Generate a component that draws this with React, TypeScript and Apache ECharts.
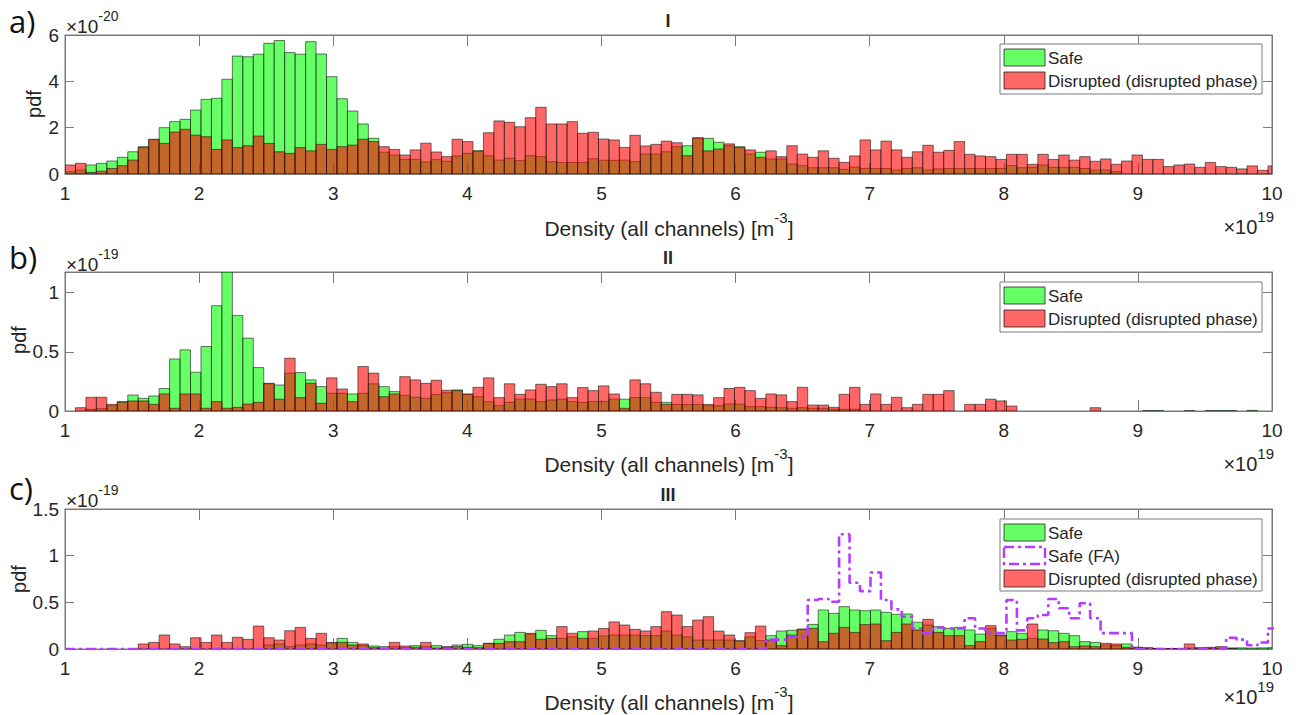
import React, { useEffect, useRef } from "react";
import * as echarts from "echarts";

// ---------- data ----------
const BIN_START = 1.0; // ×10^19 m^-3
const BIN_WIDTH = 0.078;
const X_MIN = 1;
const X_MAX = 10;

// Panel a) (×10^-20)
const safeA = [
  0.1, 0.17, 0.39, 0.46, 0.56, 0.72, 0.96, 1.18, 1.48, 2.0,
  2.26, 2.36, 2.76, 3.22, 3.27, 4.09, 5.09, 5.06, 5.17, 5.64,
  5.76, 5.24, 5.17, 5.71, 5.18, 4.2, 3.25, 2.72, 2.16, 1.54,
  0.94, 0.82, 0.63, 0.63, 0.52, 0.62, 0.55, 0.78, 0.89, 1.01,
  0.79, 0.6, 0.68, 0.58, 0.79, 0.75, 0.53, 0.5, 0.5, 0.5,
  0.66, 0.59, 0.59, 0.6, 0.53, 0.86, 0.86, 0.96, 1.18, 1.22,
  1.54, 1.54, 1.37, 1.22, 1.18, 0.86, 0.94, 0.65, 0.65, 0.43,
  0.36, 0.27, 0.27, 0.27, 0.2, 0.3, 0.24, 0.24, 0.24, 0.17,
  0.24, 0.27, 0.17, 0.22, 0.24, 0.24, 0.24, 0.24, 0.24, 0.24,
  0.36, 0.27, 0.29, 0.39, 0.29, 0.29, 0.29, 0.24, 0.17, 0.17,
  0.1, 0, 0, 0, 0, 0, 0, 0, 0, 0,
  0, 0, 0, 0, 0, 0,
];
const disruptedA = [
  0.39, 0.46, 0.07, 0.12, 0.24, 0.36, 0.6, 1.15, 1.5, 1.32,
  1.81, 1.93, 1.68, 1.61, 1.06, 1.47, 1.14, 1.22, 1.64, 1.32,
  0.96, 0.89, 1.14, 1.0, 1.28, 1.06, 1.18, 1.25, 1.5, 1.4,
  1.18, 1.06, 0.82, 1.04, 1.33, 0.95, 0.75, 1.5, 1.4, 0.98,
  1.78, 2.29, 2.23, 2.04, 2.43, 2.88, 2.16, 2.16, 2.26, 1.76,
  1.8, 1.51, 1.47, 1.15, 1.67, 1.21, 1.28, 1.42, 1.35, 0.79,
  1.57, 1.0, 1.08, 1.3, 1.14, 1.04, 0.72, 1.0, 0.75, 1.22,
  0.86, 0.72, 1.0, 0.68, 0.5, 0.78, 1.47, 1.04, 1.42, 1.04,
  0.72, 0.96, 1.24, 0.94, 1.02, 1.4, 0.85, 0.78, 0.75, 0.63,
  0.85, 0.85, 0.42, 0.85, 0.63, 0.82, 0.6, 0.75, 0.55, 0.65,
  0.42, 0.56, 0.82, 0.63, 0.63, 0.32, 0.39, 0.43, 0.29, 0.5,
  0.32, 0.29, 0.22, 0.35, 0.16, 0.35,
];

// Panel b) (×10^-19)
const safeB = [
  0, 0, 0.014, 0.02, 0.045, 0.08, 0.135, 0.107, 0.127, 0.19,
  0.44, 0.517, 0.328, 0.545, 0.89, 1.175, 0.808, 0.616, 0.367, 0.23,
  0.22, 0.32, 0.325, 0.263, 0.206, 0.15, 0.15, 0.144, 0.15, 0.23,
  0.206, 0.164, 0.133, 0.116, 0.107, 0.14, 0.155, 0.178, 0.141, 0.121,
  0.079, 0.045, 0.073, 0.1, 0.1, 0.079, 0.093, 0.1, 0.079, 0.073,
  0.079, 0.079, 0.1, 0.1, 0.113, 0.113, 0.073, 0.073, 0.056, 0.056,
  0.056, 0.045, 0.045, 0.059, 0.059, 0.037, 0.037, 0.031, 0.028, 0.023,
  0.028, 0.023, 0.023, 0.015, 0.015, 0.015, 0, 0, 0, 0,
  0, 0, 0, 0, 0, 0, 0, 0, 0, 0,
  0, 0, 0, 0, 0, 0, 0, 0, 0, 0,
  0, 0, 0, 0.004, 0.004, 0, 0, 0.003, 0, 0.004,
  0.004, 0.004, 0, 0.005, 0, 0,
];
const disruptedB = [
  0, 0.028, 0.116, 0.116, 0.056, 0.073, 0.085, 0.085, 0.056, 0.144,
  0.023, 0.144, 0.144, 0.023, 0.079, 0.023, 0.031, 0.059, 0.073, 0.234,
  0.1, 0.446, 0.113, 0.234, 0.065, 0.28, 0.186, 0.079, 0.376, 0.32,
  0.121, 0.144, 0.29, 0.263, 0.234, 0.26, 0.175, 0.172, 0.144, 0.2,
  0.28, 0.113, 0.23, 0.141, 0.178, 0.226, 0.206, 0.23, 0.113, 0.198,
  0.172, 0.212, 0.144, 0.023, 0.263, 0.23, 0.158, 0.056, 0.141, 0.141,
  0.136, 0.056, 0.113, 0.19, 0.2, 0.172, 0.107, 0.144, 0.136, 0.079,
  0.2, 0.05, 0.05, 0.031, 0.141, 0.2, 0.056, 0.144, 0.056, 0.116,
  0.028, 0.056, 0.141, 0.141, 0.172, 0, 0.056, 0.056, 0.1, 0.085,
  0.042, 0, 0, 0, 0, 0, 0, 0, 0.028, 0,
  0, 0, 0, 0, 0, 0, 0, 0, 0, 0,
  0, 0, 0, 0, 0, 0,
];

// Panel c) (×10^-19)
const safeC = [
  0, 0, 0, 0, 0, 0, 0, 0, 0, 0,
  0, 0, 0, 0, 0, 0, 0, 0, 0, 0.043,
  0.054, 0.025, 0.043, 0.054, 0.043, 0.064, 0.114, 0.071, 0.036, 0.032,
  0.025, 0.025, 0.014, 0.036, 0.025, 0.036, 0.018, 0.043, 0.05, 0.036,
  0.06, 0.104, 0.15, 0.178, 0.16, 0.2, 0.143, 0.114, 0.13, 0.186,
  0.114, 0.14, 0.15, 0.15, 0.15, 0.143, 0.143, 0.193, 0.15, 0.13,
  0.096, 0.096, 0.096, 0.096, 0.085, 0.13, 0.09, 0.143, 0.193, 0.2,
  0.214, 0.264, 0.418, 0.382, 0.454, 0.418, 0.41, 0.418, 0.393, 0.371,
  0.375, 0.286, 0.257, 0.24, 0.221, 0.232, 0.204, 0.16, 0.221, 0.15,
  0.186, 0.168, 0.114, 0.204, 0.196, 0.168, 0.143, 0.079, 0.071, 0.043,
  0.036, 0.054, 0.018, 0.014, 0.007, 0.005, 0.005, 0.01, 0.014, 0.01,
  0.01, 0.012, 0.012, 0.01, 0.012, 0.015,
];
const safeFAC = [
  0, 0, 0, 0, 0, 0, 0, 0, 0, 0,
  0, 0, 0, 0, 0, 0, 0, 0, 0, 0,
  0, 0, 0, 0, 0, 0, 0, 0, 0, 0,
  0, 0, 0, 0, 0, 0, 0, 0, 0, 0,
  0, 0, 0, 0, 0, 0, 0, 0, 0, 0,
  0, 0, 0, 0, 0, 0, 0, 0, 0, 0,
  0, 0, 0, 0, 0, 0, 0, 0.1, 0.1, 0.13,
  0.13, 0.525, 0.536, 0.507, 1.23, 0.71, 0.62, 0.82, 0.525, 0.425,
  0.346, 0.22, 0.17, 0.23, 0.22, 0.22, 0.33, 0.22, 0.17, 0.17,
  0.525, 0.2, 0.33, 0.364, 0.536, 0.436, 0.33, 0.49, 0.33, 0.17,
  0.17, 0.17, 0, 0, 0, 0, 0, 0, 0, 0,
  0, 0.12, 0.1, 0.04, 0.07, 0.22,
];
const disruptedC = [
  0, 0, 0, 0, 0, 0, 0, 0.054, 0.071, 0.15,
  0.054, 0.025, 0.121, 0.071, 0.15, 0.071, 0.125, 0.104, 0.246, 0.121,
  0.096, 0.196, 0.232, 0.114, 0.168, 0.071, 0.071, 0.043, 0.054, 0.014,
  0.01, 0.071, 0.032, 0.018, 0.071, 0.01, 0.025, 0.025, 0.018, 0.014,
  0.06, 0.06, 0.078, 0.078, 0.168, 0.104, 0.114, 0.24, 0.168, 0.114,
  0.193, 0.22, 0.29, 0.257, 0.21, 0.193, 0.24, 0.4, 0.364, 0.24,
  0.31, 0.346, 0.193, 0.15, 0.089, 0.175, 0.246, 0.096, 0.036, 0.15,
  0.21, 0.22, 0.078, 0.168, 0.232, 0.178, 0.262, 0.268, 0.089, 0.178,
  0.268, 0.204, 0.318, 0.178, 0.143, 0.143, 0.036, 0.079, 0.25, 0.143,
  0.096, 0.104, 0.268, 0.107, 0.068, 0.079, 0.025, 0.032, 0.025, 0.061,
  0.054, 0.018, 0.018, 0.01, 0.005, 0.005, 0.005, 0.054, 0.01, 0.018,
  0.025, 0.005, 0, 0, 0, 0,
];

const X_TICKS = [1, 2, 3, 4, 5, 6, 7, 8, 9, 10];
const Y_A = { max: 6, interval: 2 };
const Y_B = { max: 1.175, interval: 0.5 };
const Y_C = { max: 1.5, interval: 0.5 };

// ---------- style ----------
const GREEN = "rgba(0,255,0,0.6)";
const RED = "rgba(255,0,0,0.6)";
const EDGE = "rgba(25,25,25,0.75)";
const PURPLE = "#b43cff";
const DASHDOT = [10, 4, 3, 4];
const AXIS = "#7a7a7a";
const TXT = "#262626";
const FONT = '"Liberation Sans", Arial, sans-serif';
const TICK_SIZE = 19;

const GRIDS = [
  { left: 65, top: 35, width: 1207, height: 139 },
  { left: 65, top: 272, width: 1207, height: 139 },
  { left: 65, top: 509, width: 1207, height: 140 },
];

function histData(values: number[]) {
  const out: number[][] = [];
  values.forEach((v, i) => {
    if (v > 0) out.push([BIN_START + i * BIN_WIDTH, BIN_START + (i + 1) * BIN_WIDTH, v]);
  });
  return out;
}

function histSeries(name: string, values: number[], fill: string, idx: number) {
  return {
    type: "custom",
    name,
    xAxisIndex: idx,
    yAxisIndex: idx,
    clip: true,
    data: histData(values),
    encode: { x: [0, 1], y: 2 },
    renderItem: (_params: any, api: any) => {
      const x0 = api.value(0);
      const x1 = Math.min(api.value(1), X_MAX);
      const v = api.value(2);
      const p0 = api.coord([x0, 0]);
      const p1 = api.coord([x1, v]);
      return {
        type: "rect",
        shape: { x: p0[0], y: p1[1], width: p1[0] - p0[0], height: p0[1] - p1[1] },
        style: { fill, stroke: EDGE, lineWidth: 0.8 },
      };
    },
  };
}

function stairsSeries(name: string, values: number[], idx: number) {
  const pts: number[][] = values.map((v, i) => [BIN_START + i * BIN_WIDTH, v]);
  pts.push([BIN_START + values.length * BIN_WIDTH, values[values.length - 1]]);
  return {
    type: "line",
    name,
    xAxisIndex: idx,
    yAxisIndex: idx,
    step: "end",
    symbol: "none",
    data: pts,
    lineStyle: { color: PURPLE, width: 2.6, type: DASHDOT },
  };
}

function fmtY(interval: number) {
  return (v: number) => {
    const r = v / interval;
    if (Math.abs(r - Math.round(r)) > 1e-6) return "";
    return String(Math.round(v * 1000) / 1000);
  };
}

function superText(x: number, y: number, base: string, sup: string, align: string, size = 18, supSize = 13, tail = "") {
  return {
    type: "text",
    x,
    y,
    z: 100,
    style: {
      text: `{n|${base}}{s|${sup}}` + (tail ? `{n|${tail}}` : ""),
      align,
      textAlign: align,
      verticalAlign: "middle",
      textVerticalAlign: "middle",
      fill: TXT,
      fontFamily: FONT,
      rich: {
        n: { fontSize: size, lineHeight: size + 8, verticalAlign: "bottom", fill: TXT, fontFamily: FONT },
        s: { fontSize: supSize, lineHeight: supSize, verticalAlign: "top", fill: TXT, fontFamily: FONT },
      },
    },
  };
}

function plainText(x: number, y: number, text: string, opts: any = {}) {
  return {
    type: "text",
    x,
    y,
    z: 100,
    rotation: opts.rotation || 0,
    style: {
      text,
      align: opts.align || "left",
      textAlign: opts.align || "left",
      verticalAlign: "middle",
      textVerticalAlign: "middle",
      fill: opts.fill || TXT,
      fontSize: opts.size || 17,
      fontWeight: opts.weight || "normal",
      fontFamily: opts.family || FONT,
    },
  };
}

function legend(top: number, withFA: boolean) {
  const h = withFA ? 72 : 50;
  const els: any[] = [
    {
      type: "rect",
      z: 99,
      shape: { x: 1000, y: top, width: 262, height: h },
      style: { fill: "#ffffff", stroke: AXIS, lineWidth: 1 },
    },
  ];
  const entries: { label: string; kind: string }[] = withFA
    ? [
        { label: "Safe", kind: "g" },
        { label: "Safe (FA)", kind: "fa" },
        { label: "Disrupted (disrupted phase)", kind: "r" },
      ]
    : [
        { label: "Safe", kind: "g" },
        { label: "Disrupted (disrupted phase)", kind: "r" },
      ];
  entries.forEach((e, i) => {
    const y = top + 5 + i * 23;
    els.push({
      type: "rect",
      z: 100,
      shape: { x: 1004, y, width: 41, height: 17 },
      style:
        e.kind === "fa"
          ? { fill: "none", stroke: PURPLE, lineWidth: 2.4, lineDash: DASHDOT }
          : { fill: e.kind === "g" ? GREEN : RED, stroke: EDGE, lineWidth: 1 },
    });
    els.push(plainText(1048, y + 9, e.label, { size: 17 }));
  });
  return els;
}

export default function App() {
  const ref = useRef<HTMLDivElement>(null);

  useEffect(() => {
    if (!ref.current) return;
    const chart = echarts.init(ref.current, undefined, { renderer: "svg" });

    const yCfg = [Y_A, Y_B, Y_C];
    const xAxes: any[] = [];
    const yAxes: any[] = [];
    for (let k = 0; k < 3; k++) {
      xAxes.push({
        type: "value",
        gridIndex: k,
        position: "bottom",
        min: X_MIN,
        max: X_MAX,
        interval: 1,
        axisLine: { show: true, onZero: false, lineStyle: { color: AXIS, width: 1 } },
        axisTick: { show: true, inside: true, length: 11, lineStyle: { color: AXIS } },
        axisLabel: {
          show: true,
          margin: 10,
          color: TXT,
          fontSize: TICK_SIZE,
          fontFamily: FONT,
          formatter: (v: number) => (X_TICKS.indexOf(v) >= 0 ? String(v) : ""),
        },
        splitLine: { show: false },
      });
      yAxes.push({
        type: "value",
        gridIndex: k,
        position: "left",
        min: 0,
        max: yCfg[k].max,
        interval: yCfg[k].interval,
        axisLine: { show: true, lineStyle: { color: AXIS, width: 1 } },
        axisTick: { show: true, inside: true, length: 9, lineStyle: { color: AXIS } },
        axisLabel: {
          show: true,
          margin: 6,
          color: TXT,
          fontSize: TICK_SIZE,
          fontFamily: FONT,
          formatter: fmtY(yCfg[k].interval),
        },
        splitLine: { show: false },
      });
    }
    for (let k = 0; k < 3; k++) {
      xAxes.push({
        type: "value",
        gridIndex: k,
        position: "top",
        min: X_MIN,
        max: X_MAX,
        interval: 1,
        axisLine: { show: true, onZero: false, lineStyle: { color: AXIS, width: 1 } },
        axisTick: { show: true, inside: true, length: 11, lineStyle: { color: AXIS } },
        axisLabel: { show: false },
        splitLine: { show: false },
      });
      yAxes.push({
        type: "value",
        gridIndex: k,
        position: "right",
        min: 0,
        max: yCfg[k].max,
        interval: yCfg[k].interval,
        axisLine: { show: true, lineStyle: { color: AXIS, width: 1 } },
        axisTick: { show: true, inside: true, length: 9, lineStyle: { color: AXIS } },
        axisLabel: { show: false },
        splitLine: { show: false },
      });
    }

    const panelLabelFont = '"Open Sans", "Liberation Sans", sans-serif';
    const lbl = { size: 31, family: panelLabelFont, fill: "#111" };
    const graphics: any[] = [
      plainText(9, 21, "a)", lbl),
      plainText(9, 257, "b)", lbl),
      plainText(9, 488, "c)", lbl),
      superText(66, 22, "×10", "-20", "left", 19, 14),
      superText(66, 260, "×10", "-19", "left", 19, 14),
      superText(66, 496, "×10", "-19", "left", 19, 14),
      plainText(668, 21, "I", { align: "center", weight: "bold", size: 18 }),
      plainText(668, 258, "II", { align: "center", weight: "bold", size: 18 }),
      plainText(668, 495, "III", { align: "center", weight: "bold", size: 18 }),
      plainText(34, 104, "pdf", { align: "center", size: 20, rotation: Math.PI / 2 }),
      plainText(19, 340, "pdf", { align: "center", size: 20, rotation: Math.PI / 2 }),
      plainText(19, 579, "pdf", { align: "center", size: 20, rotation: Math.PI / 2 }),
      superText(669, 224, "Density (all channels) [m", "-3", "center", 21, 15, "]"),
      superText(669, 460, "Density (all channels) [m", "-3", "center", 21, 15, "]"),
      superText(669, 698, "Density (all channels) [m", "-3", "center", 21, 15, "]"),
      superText(1274, 223, "×10", "19", "right", 20, 15),
      superText(1274, 460, "×10", "19", "right", 20, 15),
      superText(1274, 693, "×10", "19", "right", 20, 15),
      ...legend(44, false),
      ...legend(282, false),
      ...legend(519, true),
    ];

    chart.setOption({
      animation: false,
      backgroundColor: "#ffffff",
      grid: GRIDS.map((g) => ({
        ...g,
        containLabel: false,
        show: true,
        borderColor: AXIS,
        borderWidth: 1,
        backgroundColor: "transparent",
      })),
      xAxis: xAxes,
      yAxis: yAxes,
      series: [
        histSeries("Safe", safeA, GREEN, 0),
        histSeries("Disrupted (disrupted phase)", disruptedA, RED, 0),
        histSeries("Safe", safeB, GREEN, 1),
        histSeries("Disrupted (disrupted phase)", disruptedB, RED, 1),
        histSeries("Safe", safeC, GREEN, 2),
        stairsSeries("Safe (FA)", safeFAC, 2),
        histSeries("Disrupted (disrupted phase)", disruptedC, RED, 2),
      ],
      graphic: { elements: graphics },
    });

    return () => chart.dispose();
  }, []);

  return (
    <div
      ref={ref}
      style={{ position: "fixed", left: 0, top: 0, width: 1297, height: 715, background: "#fff" }}
    />
  );
}
